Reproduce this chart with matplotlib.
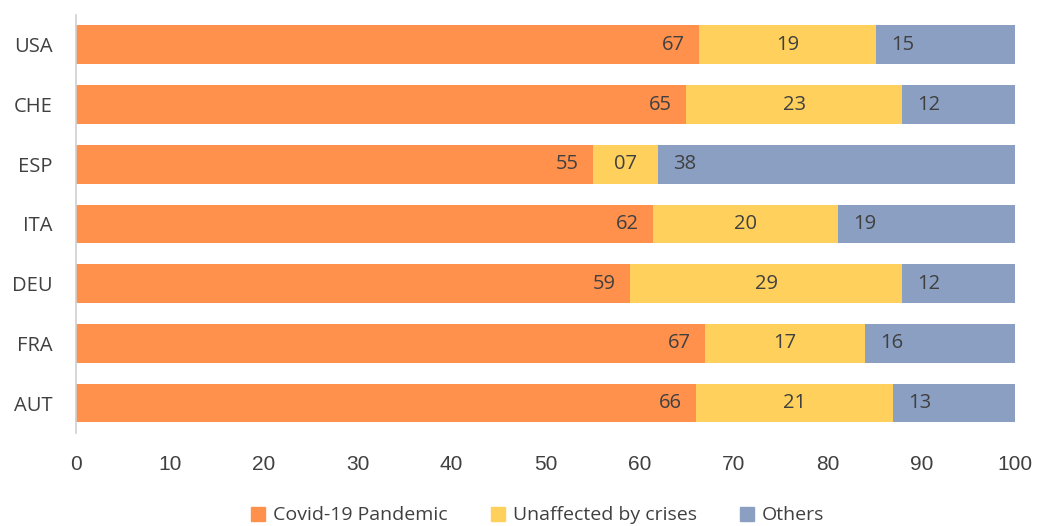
import matplotlib.pyplot as plt
import numpy as np
from matplotlib.patches import Patch

countries = ['USA', 'CHE', 'ESP', 'ITA', 'DEU', 'FRA', 'AUT']
covid = [67, 65, 55, 62, 59, 67, 66]
unaffected = [19, 23, 7, 20, 29, 17, 21]
others = [15, 12, 38, 19, 12, 16, 13]

series_names = ['Covid-19 Pandemic', 'Unaffected by crises', 'Others']
colors = ['#FF914D', '#FFD15C', '#8A9FC2']
text_color = '#404040'
label_font = ['Open Sans', 'DejaVu Sans']


def plot_data():
  fig = plt.figure(figsize=(10.38, 5.26), dpi=100)
  ax = fig.add_axes([0.0732, 0.177, 0.9048, 0.7945])

  vals = np.array([covid, unaffected, others], dtype=float)
  shares = vals / vals.sum(axis=0) * 100  # bars are scaled to 100 percent
  y = np.arange(len(countries))
  left = np.zeros(len(countries))

  for i in range(3):
    ax.barh(y, shares[i], left=left, height=0.65, color=colors[i], linewidth=0)
    for j in range(len(countries)):
      txt = '%02d' % vals[i][j]
      if i == 0:
        x, ha = left[j] + shares[i][j] - 1.5, 'right'
      elif i == 1:
        x, ha = left[j] + shares[i][j] / 2, 'center'
      else:
        x, ha = left[j] + 1.6, 'left'
      ax.text(x, y[j], txt, ha=ha, va='center', fontsize=14.5,
              color=text_color, family=label_font)
    left += shares[i]

  ax.set_xlim(0, 100)
  ax.set_ylim(len(countries) - 0.5, -0.5)
  ax.set_yticks(y)
  ax.set_yticklabels(countries, family=label_font, fontsize=14.5, color=text_color)
  ax.set_xticks(range(0, 101, 10))
  ax.set_xticklabels([str(v) for v in range(0, 101, 10)], family='Liberation Sans',
                     fontsize=15, color=text_color)
  ax.tick_params(axis='y', length=0, pad=17)
  ax.tick_params(axis='x', length=0, pad=16)

  for side in ['top', 'right', 'bottom']:
    ax.spines[side].set_visible(False)
  ax.spines['left'].set_color('#D0D0D0')
  ax.spines['left'].set_linewidth(1.2)

  handles = [Patch(color=c, label=n) for c, n in zip(colors, series_names)]
  fig.legend(handles=handles, loc='center', bbox_to_anchor=(0.518, 0.02), ncol=3,
             frameon=False, prop={'family': label_font, 'size': 14},
             labelcolor=text_color, handlelength=0.75, handleheight=0.75,
             handletextpad=0.4, columnspacing=2.2)

  plt.savefig('out.png', dpi=100)


def main():
  plot_data()


if __name__ == '__main__':
  main()
